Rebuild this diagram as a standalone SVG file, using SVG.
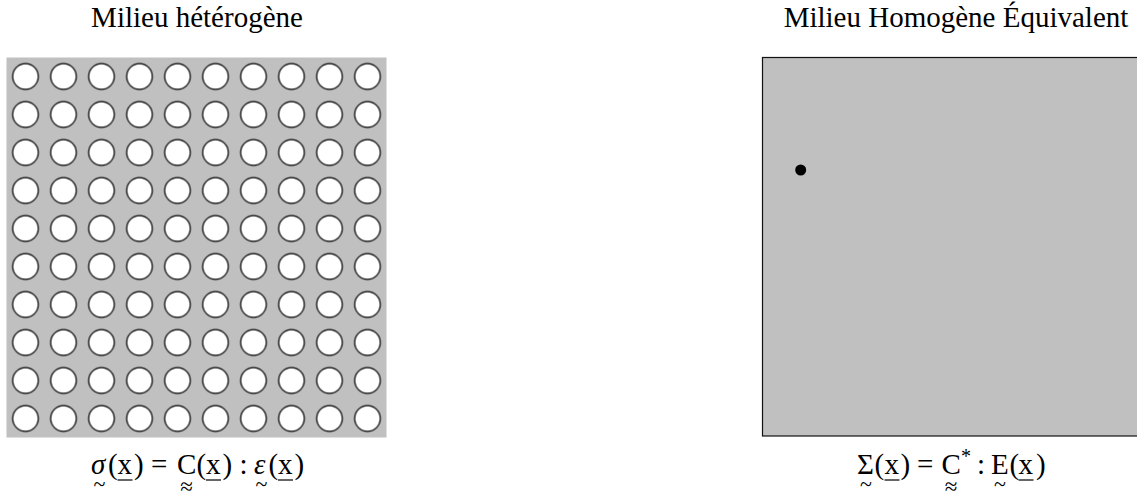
<svg xmlns="http://www.w3.org/2000/svg" width="1137" height="491" viewBox="0 0 1137 491">
<defs>
<style>
.t{font-family:"Liberation Serif","Times New Roman",serif;font-size:29px;fill:#000}
.it{font-style:italic}
.acc{font-family:"Liberation Serif","Times New Roman",serif;fill:#000;text-anchor:middle}
.ul{stroke:#000;stroke-width:1.2}
.c{fill:#fff;stroke:#000;stroke-width:1.2}
</style>
<pattern id="holes" x="6.5" y="57.5" width="38" height="38" patternUnits="userSpaceOnUse">
<circle class="c" cx="19" cy="19" r="12.8"/>
</pattern>
</defs>
<rect width="1137" height="491" fill="#fff"/>
<g id="heterogeneous">
<text class="t" x="197" y="27" text-anchor="middle">Milieu hétérogène</text>
<rect x="6.5" y="57.5" width="380" height="380" fill="#c0c0c0"/>
<rect x="6.5" y="57.5" width="380" height="380" fill="url(#holes)"/>
<g id="formula-left">
<text class="t" y="474"><tspan class="it" x="91">σ</tspan><tspan x="108">(</tspan><tspan x="117.5">x</tspan><tspan x="134">)</tspan><tspan x="151">=</tspan><tspan x="177">C</tspan><tspan x="196.5">(</tspan><tspan x="206">x</tspan><tspan x="222.5">)</tspan><tspan x="239.5">:</tspan><tspan class="it" x="254">ε</tspan><tspan x="268.5">(</tspan><tspan x="278">x</tspan><tspan x="294.5">)</tspan></text>
<line class="ul" x1="117.5" y1="480" x2="132.5" y2="480"/>
<line class="ul" x1="206" y1="480" x2="221" y2="480"/>
<line class="ul" x1="278" y1="480" x2="293" y2="480"/>
<text class="acc" x="99.5" y="491" font-size="22">~</text>
<text class="acc" x="186.5" y="494" font-size="23">≈</text>
<text class="acc" x="261.5" y="491" font-size="22">~</text>
</g>
</g>
<g id="homogeneous">
<text class="t" x="956" y="27" text-anchor="middle">Milieu Homogène Équivalent</text>
<rect x="762.5" y="57.5" width="380" height="378.5" fill="#c0c0c0" stroke="#111" stroke-width="1.2"/>
<circle cx="800.7" cy="170" r="5.5" fill="#000"/>
<g id="formula-right">
<text class="t" y="474"><tspan x="857">Σ</tspan><tspan x="874.5">(</tspan><tspan x="884.5">x</tspan><tspan x="900.5">)</tspan><tspan x="917">=</tspan><tspan x="941.5">C</tspan><tspan x="961" dy="-11" font-size="20">*</tspan><tspan x="977" dy="11">:</tspan><tspan x="991">E</tspan><tspan x="1009.5">(</tspan><tspan x="1018.5">x</tspan><tspan x="1036">)</tspan></text>
<line class="ul" x1="884.5" y1="480" x2="899.5" y2="480"/>
<line class="ul" x1="1018.5" y1="480" x2="1033.5" y2="480"/>
<text class="acc" x="866" y="491" font-size="22">~</text>
<text class="acc" x="951" y="494" font-size="23">≈</text>
<text class="acc" x="1000" y="491" font-size="22">~</text>
</g>
</g>
</svg>
